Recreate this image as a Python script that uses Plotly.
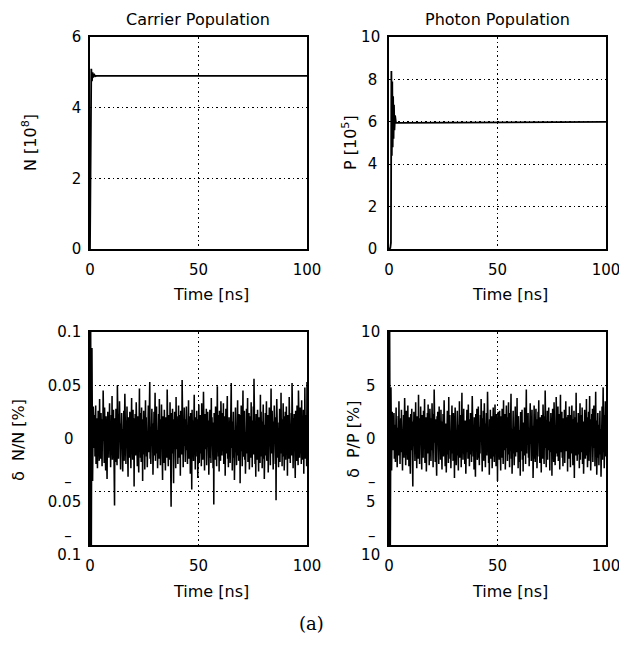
import numpy as np
import plotly.graph_objects as go

# ---------------- data ----------------
t_carrier = [0, 0.3, 0.6, 0.9, 1.2, 1.5, 2.0, 2.5, 3.0, 100]
N_carrier = [0, 3.5, 5.1, 4.75, 5.0, 4.86, 4.93, 4.89, 4.9, 4.9]          # [1e8]

t_photon = [0, 0.6, 0.9, 1.1, 1.3, 1.5, 1.7, 1.9, 2.1, 2.3, 2.5, 2.8, 3.2, 100]
P_photon = [0, 0.05, 0.3, 8.4, 4.4, 7.9, 4.8, 7.2, 5.2, 6.8, 5.6, 6.3, 5.95, 6.0]  # [1e5]

# relative fluctuations: start-up transient, then steady-state noise
t_start = [0, 0.3, 0.6, 0.9, 1.2, 1.5]
dN_start = [-0.10, 0.11, -0.11, 0.085, -0.04, 0.03]      # [%]
dP_start = [-10.0, 10.5, -10.5, 4.8, -3.0, 2.5]          # [%]

# steady-state δN/N samples, in units of 1e-3 %
dN_noise_milli = [
    14, -9, 22, -17, 5, 31, -24, 11, -3, 19, -28, 8, 26, -13, 2, -21, 37, -6, 16, -19,
    24, -11, 7, -26, 18, -2, 45, -15, 10, -23, 29, -7, 13, -30, 21, -4, 17, -38, 9, 25,
    -12, 20, -18, 3, 33, -9, 15, -27, 6, 22, -14, 40, -20, 8, -5, 27, -16, 12, -63, 19,
    1, -22, 28, -10, 16, -25, 50, -8, 11, -19, 23, -3, 35, -17, 7, -29, 14, -6, 24, -13,
    18, -31, 9, -4, 26, -21, 13, 42, -11, 5, -24, 17, -9, 30, -15, 2, -36, 20, -7, 12,
    -18, 25, -5, 15, -28, 10, 38, -14, 4, -20, 27, -12, 8, -45, 19, -3, 23, -16, 11, 34,
    -10, 6, -26, 21, -1, 16, -32, 13, 47, -9, 24, -18, 3, -22, 29, -11, 14, -40, 18, -6,
    26, -15, 9, -29, 12, 36, -7, 20, -17, 2, -27, 15, -4, 31, -13, 22, -8, 53, -19, 7,
    -24, 17, -11, 28, -3, 14, -34, 19, -9, 25, -16, 6, 43, -21, 11, -5, 30, -14, 8, -28,
    16, -2, 23, -19, 37, -12, 10, -25, 18, -7, 32, -15, 4, -39, 21, -10, 13, -23, 27, -4,
    11, -30, 20, -8, 15, -18, 46, -13, 6, -26, 22, -1, 17, -20, 34, -9, 12, -64, 24, -14,
    3, 28, -17, 9, -42, 18, -6, 25, -12, 14, -28, 39, -10, 21, -3, 16, -24, 7, 31, -18,
    22, -9, 13, -35, 26, -4, 19, -15, 55, -20, 10, -27, 16, -7, 29, -12, 5, -22, 18, -11,
    30, -16, 8, -24, 12, -2, 36, -19, 21, -9, 15, -33, 24, -6, 11, -48, 27, -13, 17, -4,
    -21, 14, 41, -11, 6, -29, 20, -17, 9, 26, -5, 18, -37, 13, -8, 32, -23, 15, -2, 22,
    -14, 10, -26, 33, -7, 19, -20, 4, 44, -16, 12, -30, 23, -10, 16, -3, 28, -25, 8, -12,
    25, -8, 17, -34, 13, -1, 27, -18, 11, -23, 38, -6, 20, -15, 7, -28, 15, -62, 24, -10,
    12, -20, 30, -5, 18, -26, 9, 49, -13, 22, -17, 4, -31, 26, -9, 14, -21, 35, -7, 19,
    -16, 7, 24, -12, 33, -24, 15, -3, 21, -35, 10, 28, -14, 17, -8, 40, -19, 6, -27, 13,
    20, -11, 5, -23, 27, -15, 52, -9, 16, -30, 12, -2, 25, -18, 8, -39, 19, -6, 29, -13,
    9, -25, 18, -4, 36, -16, 11, -21, 23, -8, 14, -42, 22, -12, 31, -5, 17, -26, 10, 45,
    -17, 13, -7, 26, -20, 6, -33, 19, -10, 28, -14, 3, 38, -22, 15, -11, 24, -29, 8, -3,
    21, -18, 34, -9, 12, -27, 17, -1, 30, -15, 56, -10, 19, -24, 6, -36, 23, -13, 11, -20,
    27, -6, 14, -31, 20, -12, 8, -23, 41, -17, 25, -4, 16, -28, 10, -9, 32, -19, 13, -38,
    18, -10, 24, -16, 5, 35, -21, 12, -7, 22, -32, 15, -13, 29, -2, 19, -25, 9, 47, -14,
    -8, 26, -19, 11, -29, 16, -3, 31, -11, 7, -24, 20, -58, 14, 37, -12, 23, -18, 6, -27,
    15, -5, 28, -22, 10, -14, 43, -9, 18, -26, 13, -1, 33, -17, 21, -30, 8, -11, 25, -20,
    4, 30, -13, 17, -35, 22, -7, 12, -19, 39, -10, 27, -23, 9, -4, 24, -16, 52, -12, 15,
    -28, 19, -6, 23, -15, 11, -37, 26, -9, 16, -21, 31, -3, 13, -25, 45, -11, 20, -18, 7,
    29, -14, 10, -24, 36, -8, 17, -20, 5, 27, -33, 14, -12, 48, -19, 22, -7, 18, -26, 53,
]

# steady-state δP/P samples, in units of 0.1 %
dP_noise_deci = [
    -11, 16, -6, 24, -19, 8, 13, -22, 3, 29, -14, 10, -27, 18, -2, 21, -16, 35, -9, 12,
    -24, 5, 19, -13, 27, -7, 15, -30, 9, -1, 22, -18, 11, 38, -10, 17, -25, 6, 26, -15,
    2, -20, 31, -8, 14, -26, 20, -4, 12, -33, 23, -11, 7, 28, -17, 9, -45, 16, -5, 25,
    -13, 18, -21, 4, 34, -9, 13, -28, 21, -3, 16, -19, 41, -12, 8, -24, 19, -6, 30, -16,
    10, -29, 22, -2, 15, -18, 26, -10, 5, 37, -23, 14, -7, 20, -31, 11, -1, 24, -14, 32,
    -8, 17, -25, 9, 28, -15, 3, -21, 19, -11, 33, -6, 13, -27, 23, -4, 46, -17, 10, -22,
    18, -12, 6, -35, 21, -3, 25, -16, 11, -24, 30, -9, 15, 1, -20, 27, -13, 8, -29, 16,
    -5, 23, -17, 12, 36, -10, 19, -26, 4, 14, -32, 20, -7, 26, -15, 9, -23, 39, -11, 13,
    22, -19, 7, -28, 16, -2, 31, -14, 10, -21, 24, -8, 17, -37, 12, 29, -6, 18, -25, 3,
    -16, 26, -9, 20, -30, 13, -4, 35, -18, 8, -12, 22, -27, 15, 43, -10, 11, -20, 6, 28,
    -14, 9, -24, 17, 2, -33, 21, -7, 27, -13, 14, -19, 32, -5, 18, -26, 10, -15, 24, -2,
    19, -22, 12, 40, -11, 25, -17, 6, -29, 20, -8, 15, -36, 23, 3, -12, 28, -20, 9, -16,
    30, -6, 16, -25, 11, -14, 22, -3, 37, -18, 13, -31, 19, -9, 26, -21, 5, 33, -13, 17,
    -27, 14, -4, 24, -16, 8, 44, -11, 20, -23, 10, -34, 18, -1, 27, -19, 12, -8, 21, -28,
    15, -10, 29, -17, 6, -22, 19, 32, -12, 11, -26, 23, -5, 16, -40, 13, 25, -15, 7, -20,
    26, -13, 9, -30, 21, 1, -18, 28, -8, 14, -24, 36, -11, 18, -3, 23, -29, 10, -16, 31,
    -9, 20, -21, 12, -5, 34, -15, 7, -27, 24, -12, 17, 42, -19, 9, -33, 15, -4, 26, -14,
    11, -25, 18, -7, 30, -17, 5, 22, -13, 38, -10, 14, -28, 21, -2, 19, -22, 8, -35, 25,
    -12, 16, -3, 27, -20, 10, -31, 15, 4, -16, 29, -9, 23, -24, 13, 46, -14, 20, -6, 12,
    24, -18, 7, -26, 14, -11, 33, -5, 19, -21, 9, 27, -15, 12, -37, 17, -8, 31, -19, 3,
    -22, 13, 28, -10, 18, -28, 6, -14, 25, -3, 36, -17, 11, -23, 20, -7, 15, -32, 22, -12,
    8, -19, 32, -6, 13, -24, 21, -9, 45, -15, 10, -27, 17, -1, 26, -20, 14, -11, 29, -4,
    16, -30, 11, -13, 24, -8, 19, -35, 7, 28, -16, 12, -22, 34, -5, 18, -25, 9, -14, 39,
    -10, 21, -17, 6, 30, -21, 15, -4, 23, -29, 12, 41, -13, 17, -9, 25, -18, 4, -26, 19,
    13, -7, 27, -23, 10, -15, 35, -12, 20, -2, 16, -31, 22, -10, 8, -19, 30, -6, 14, -27,
    22, -14, 5, 31, -18, 12, -25, 18, -8, 26, -37, 11, -3, 20, -16, 43, -11, 15, -21, 7,
    -15, 24, -10, 17, -28, 9, 33, -20, 14, -6, 22, -13, 29, -24, 5, 16, -33, 21, -9, 27,
    10, -19, 13, -2, 37, -16, 20, -27, 8, -11, 25, -21, 15, 40, -7, 18, -30, 12, -17, 23,
    -4, 28, -22, 11, -14, 31, -9, 19, -26, 6, 44, -12, 17, -34, 21, -5, 24, -18, 13, -25,
    19, -8, 26, -15, 9, -36, 16, -3, 30, -20, 12, 48, -13, 22, -28, 7, -10, 35, -17, 14,
]

noise_t_start, noise_t_end = 1.8, 100.0

x_ticks = [0, 50, 100]
x_ticklabels = ["0", "50", "100"]
N_ticks = [0, 2, 4, 6]
N_ticklabels = ["0", "2", "4", "6"]
P_ticks = [0, 2, 4, 6, 8, 10]
P_ticklabels = ["0\u2009", "2\u2009", "4\u2009", "6\u2009", "8\u2009", "10"]
dN_ticks = [-0.1, -0.05, 0, 0.05, 0.1]
dN_ticklabels = ["–\u00a0\u00a0<br>0.1", "–\u00a0\u00a0<br>0.05", "0\u00a0\u2009", "0.05", "0.1"]
dP_ticks = [-10, -5, 0, 5, 10]
dP_ticklabels = ["–\u00a0<br>10", "–\u00a0<br>5\u00a0", "0\u00a0", "5\u00a0", "10"]

# ---------------- build series ----------------
t_noise = np.linspace(noise_t_start, noise_t_end, len(dN_noise_milli))
t_dN = list(t_start) + list(t_noise)
dN = list(dN_start) + [v * 1e-3 for v in dN_noise_milli]
t_noiseP = np.linspace(noise_t_start, noise_t_end, len(dP_noise_deci))
t_dP = list(t_start) + list(t_noiseP)
dP = list(dP_start) + [v * 0.1 for v in dP_noise_deci]

# The page body keeps its default 8 px margin, so the figure is drawn 8 px in
# from the window corner; size it to fill exactly the rest of the window.
WIN_W, WIN_H = 627, 646
OFF = 8
W, H = WIN_W - OFF, WIN_H - OFF
FONT = "DejaVu Sans"

def px(x):
    return (x - OFF) / W

def py(y):
    return 1 - (y - OFF) / H

dom_x = [[px(90), px(307)], [px(389), px(606)]]
dom_y = [[py(249), py(37)], [py(545), py(332)]]

fig = go.Figure()

fig.add_trace(go.Scatter(x=t_carrier, y=N_carrier, mode="lines",
                         line=dict(color="black", width=1.8), xaxis="x", yaxis="y"))
fig.add_trace(go.Scatter(x=t_photon, y=P_photon, mode="lines",
                         line=dict(color="black", width=1.8), xaxis="x2", yaxis="y2"))
fig.add_trace(go.Scatter(x=t_dN, y=dN, mode="lines",
                         line=dict(color="black", width=1.55), xaxis="x3", yaxis="y3"))
fig.add_trace(go.Scatter(x=t_dP, y=dP, mode="lines",
                         line=dict(color="black", width=1.55), xaxis="x4", yaxis="y4"))

GRID = dict(showgrid=True, gridcolor="black", griddash="1.5px,3px", gridwidth=1.2)

def xaxis(dom, anchor):
    return dict(domain=dom, anchor=anchor, range=[0, 100], tickvals=x_ticks,
                ticktext=x_ticklabels, showline=True, mirror=True, linecolor="black",
                linewidth=1.6, zeroline=False, ticks="", ticklabelstandoff=6,
                automargin=False,
                tickfont=dict(family=FONT, size=15, color="black"), **GRID)

def yaxis(dom, anchor, rng, vals, texts):
    return dict(domain=dom, anchor=anchor, range=rng, tickvals=vals, ticktext=texts,
                showline=True, mirror=True, linecolor="black", linewidth=1.6,
                zeroline=False, ticks="", ticklabelstandoff=4, automargin=False,
                tickfont=dict(family=FONT, size=15, color="black"), **GRID)

fig.update_layout(
    width=W, height=H, margin=dict(l=0, r=0, t=0, b=0, autoexpand=False),
    paper_bgcolor="white", plot_bgcolor="white", showlegend=False,
    font=dict(family=FONT, size=16, color="black"),
    xaxis=xaxis(dom_x[0], "y"), yaxis=yaxis(dom_y[0], "x", [0, 6], N_ticks, N_ticklabels),
    xaxis2=xaxis(dom_x[1], "y2"), yaxis2=yaxis(dom_y[0], "x2", [0, 10], P_ticks, P_ticklabels),
    xaxis3=xaxis(dom_x[0], "y3"), yaxis3=yaxis(dom_y[1], "x3", [-0.1, 0.1], dN_ticks, dN_ticklabels),
    xaxis4=xaxis(dom_x[1], "y4"), yaxis4=yaxis(dom_y[1], "x4", [-10, 10], dP_ticks, dP_ticklabels),
)

def ann(text, x, y, angle=0, size=16, family=FONT):
    fig.add_annotation(text=text, x=px(x), y=py(y), xref="paper", yref="paper",
                       showarrow=False, textangle=angle, xanchor="center", yanchor="middle",
                       font=dict(family=family, size=size, color="black"))

ann("Carrier Population", 198, 20)
ann("Photon Population", 497, 20)
for cx in (211, 510):
    ann("Time [ns]", cx, 294)
    ann("Time [ns]", cx, 591)
ann("N [10<sup>8</sup>]", 29, 143, -90)
ann("P [10<sup>5</sup>]", 349, 143, -90)
ann("δ  N/N [%]", 18, 440, -90)
ann("δ  P/P [%]", 353, 440, -90)
ann("(a)", 311, 623, 0, 18, "DejaVu Serif")

fig.write_html("out.html")
